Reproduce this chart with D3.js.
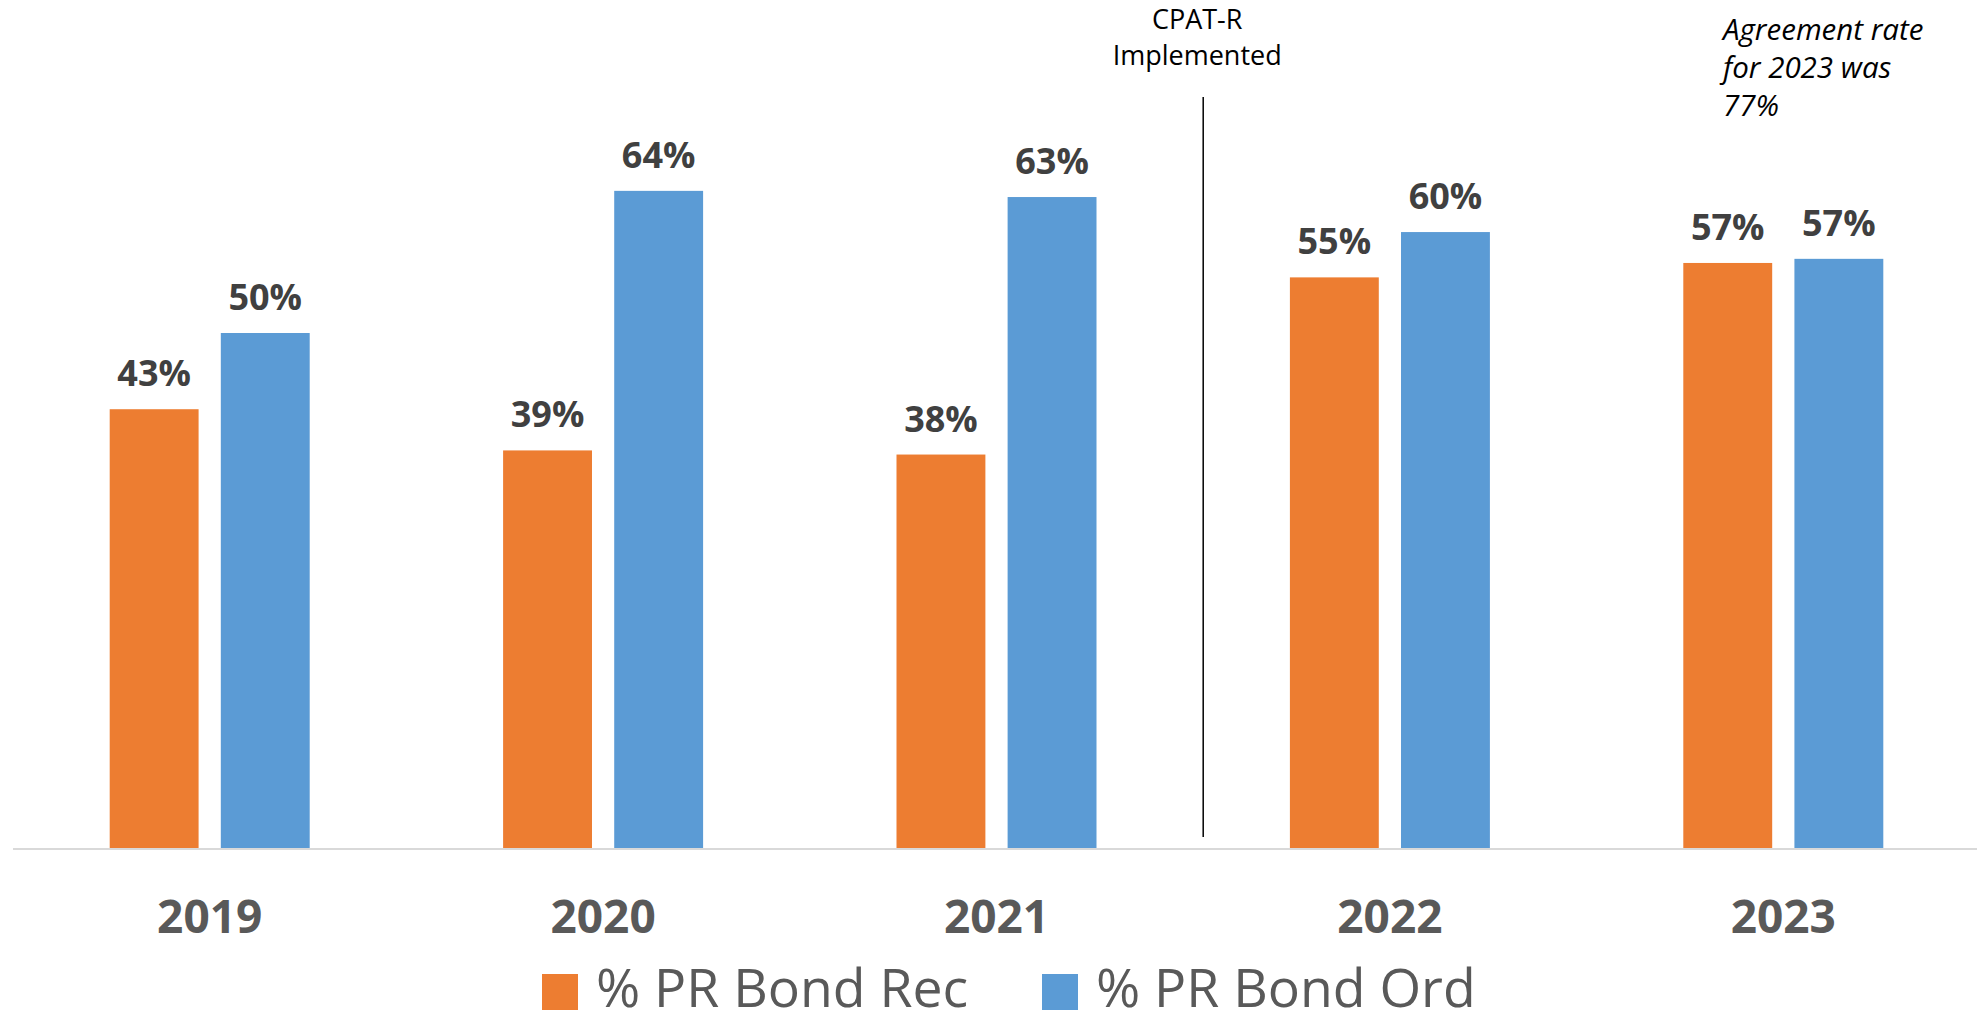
<!DOCTYPE html>
<meta charset="utf-8">
<style>
  html, body { margin: 0; padding: 0; background: #fff; overflow: hidden; }
  body { font-family: "Open Sans", sans-serif; }
  .year { font: bold 46px "Open Sans"; fill: #595959; }
  .val { font: bold 36px "Open Sans"; fill: #404040; }
  .legend text { font: normal 53.5px "Open Sans"; fill: #595959; }
  .note { font: normal 27px "Open Sans"; fill: #000; }
  .note-it { font: italic 29.5px "Open Sans"; fill: #000; }
</style>
<svg></svg>
<script src="https://d3js.org/d3.v7.min.js"></script>
<script>

var years = ["2019", "2020", "2021", "2022", "2023"];
var seriesNames = ["% PR Bond Rec", "% PR Bond Ord"];
var bondRec = [42.6, 38.6, 38.2, 55.4, 56.8];
var bondOrd = [50.0, 63.8, 63.2, 59.8, 57.2];
var colours = ["#ED7D31", "#5B9BD5"];

var width = 1977, height = 1025;
var baseY = 848;

var svg = d3.select("svg")
    .attr("width", width)
    .attr("height", height);

var data = years.map(function(y, i) {
  return {year: y, values: [
    {key: seriesNames[0], value: bondRec[i]},
    {key: seriesNames[1], value: bondOrd[i]}
  ]};
});

var x0 = d3.scaleBand().domain(years).range([13, 1980]).padding(0);
var x1 = d3.scaleBand().domain(seriesNames)
    .range([x0.bandwidth() / 2 - 100, x0.bandwidth() / 2 + 100])
    .paddingInner(0.2);
var y = d3.scaleLinear().domain([0, 80]).range([baseY, baseY - 824]);
var colour = d3.scaleOrdinal().domain(seriesNames).range(colours);

// axis line
svg.append("line")
    .attr("x1", 13).attr("x2", width)
    .attr("y1", baseY + 1).attr("y2", baseY + 1)
    .attr("stroke", "#d9d9d9").attr("stroke-width", 2);

var groups = svg.selectAll(".grp")
    .data(data)
  .enter().append("g")
    .attr("class", "grp")
    .attr("transform", function(d) { return "translate(" + x0(d.year) + ",0)"; });

groups.selectAll("rect")
    .data(function(d) { return d.values; })
  .enter().append("rect")
    .attr("x", function(d) { return x1(d.key); })
    .attr("y", function(d) { return y(d.value); })
    .attr("width", x1.bandwidth())
    .attr("height", function(d) { return baseY - y(d.value); })
    .attr("fill", function(d) { return colour(d.key); });

groups.selectAll(".val")
    .data(function(d) { return d.values; })
  .enter().append("text")
    .attr("class", "val")
    .attr("text-anchor", "middle")
    .attr("x", function(d) { return x1(d.key) + x1.bandwidth() / 2; })
    .attr("y", function(d) { return y(d.value) - 23; })
    .text(function(d) { return Math.round(d.value) + "%"; });

// year labels
svg.selectAll(".year")
    .data(years)
  .enter().append("text")
    .attr("class", "year")
    .attr("text-anchor", "middle")
    .attr("x", function(d) { return x0(d) + x0.bandwidth() / 2; })
    .attr("y", 933)
    .text(function(d) { return d; });

// CPAT-R divider
var divX = x0("2022") + 10;
svg.append("line")
    .attr("x1", divX).attr("x2", divX)
    .attr("y1", 97).attr("y2", 837)
    .attr("stroke", "#000").attr("stroke-width", 1.5);

svg.append("text").attr("class", "note")
    .attr("text-anchor", "middle")
    .attr("x", divX - 6).attr("y", 29)
    .text("CPAT-R");
svg.append("text").attr("class", "note")
    .attr("text-anchor", "middle")
    .attr("x", divX - 6).attr("y", 65)
    .text("Implemented");

var noteLines = ["Agreement rate", "for 2023 was", "77%"];
svg.selectAll(".note-it")
    .data(noteLines)
  .enter().append("text")
    .attr("class", "note-it")
    .attr("x", 1723)
    .attr("y", function(d, i) { return 40 + i * 38; })
    .text(function(d) { return d; });

// legend
var legend = svg.append("g").attr("class", "legend");
var legX = [542, 1042];
seriesNames.forEach(function(name, i) {
  legend.append("rect")
      .attr("x", legX[i]).attr("y", 974)
      .attr("width", 36).attr("height", 36)
      .attr("fill", colour(name));
  legend.append("text")
      .attr("x", legX[i] + 54).attr("y", 1007)
      .text(name);
});
</script>
